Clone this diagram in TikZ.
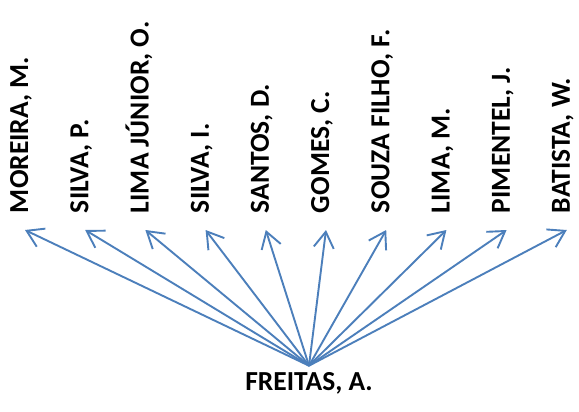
\documentclass[tikz,border=0pt]{standalone}
\usepackage{fontspec}
\setmainfont{Carlito}
\usetikzlibrary{arrows.meta}
\definecolor{linkblue}{RGB}{76,127,187}
\begin{document}
\begin{tikzpicture}[x=1pt,y=-1pt,
  author/.style={font=\fontsize{27.5}{33}\selectfont\bfseries, text=black,
    inner sep=0pt, text height=0.63em, text depth=0pt},
  coauthor/.style={author, rotate=90, anchor=west, outer xsep=17pt},
  link/.style={draw=linkblue, line width=1.9pt,
    -{Straight Barb[length=16pt,width=20pt,line width=1.9pt]}}]
  \useasboundingbox (0,0) rectangle (579,412);

  % central author, with the fan of arrows starting just above the name
  \node[author, anchor=south, outer ysep=18pt] (freitas) at (309,408) {FREITAS, A.};

  % co-authors, set upright and read from bottom to top
  \foreach \name/\label [count=\i from 0] in {
      moreira/{MOREIRA, M.},
      silvap/{SILVA, P.},
      limajr/{LIMA JÚNIOR, O.},
      silvai/{SILVA, I.},
      santos/{SANTOS, D.},
      gomes/{GOMES, C.},
      souza/{SOUZA FILHO, F.},
      limam/{LIMA, M.},
      pimentel/{PIMENTEL, J.},
      batista/{BATISTA, W.}} {
    \node[coauthor] (\name) at ({25+60.2*\i},230) {\label};
    \draw[link] (freitas.north) -- (\name.west);
  }
\end{tikzpicture}
\end{document}
